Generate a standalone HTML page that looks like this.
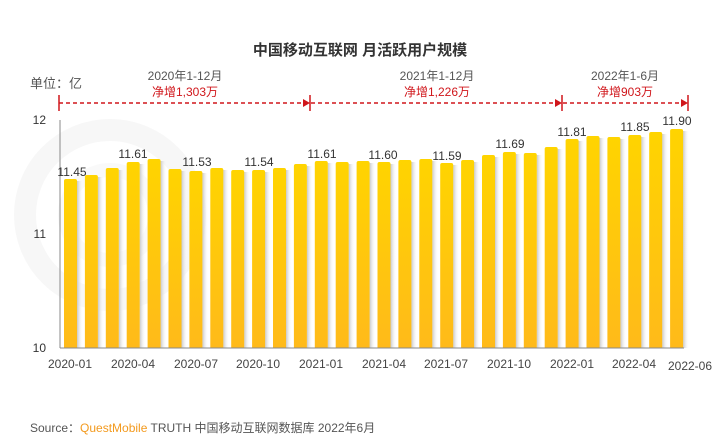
<!DOCTYPE html>
<html><head><meta charset="utf-8"><style>
body{margin:0;background:#fff;}
svg{display:block;font-family:"Liberation Sans","Noto Sans CJK SC",sans-serif;}
</style></head><body>
<svg width="718" height="443" viewBox="0 0 718 443">
<defs>
<linearGradient id="g" x1="0" y1="0" x2="0" y2="1"><stop offset="0" stop-color="#FFD400"/><stop offset="1" stop-color="#FFBA1A"/></linearGradient>
<linearGradient id="s" x1="0" y1="0" x2="1" y2="0"><stop offset="0" stop-color="#c8c8c8"/><stop offset="1" stop-color="#fff" stop-opacity="0"/></linearGradient>
</defs>
<circle cx="110" cy="215" r="85" fill="none" stroke="#f7f7f7" stroke-width="22"/>
<circle cx="110" cy="215" r="45" fill="none" stroke="#f9f9f9" stroke-width="14"/>
<text x="360" y="55" text-anchor="middle" font-size="15" font-weight="bold" fill="#333">中国移动互联网 月活跃用户规模</text>
<text x="30" y="88" font-size="13" fill="#555">单位：亿</text>
<g font-size="12" text-anchor="middle">
<text x="185" y="80" fill="#555">2020年1-12月</text><text x="185" y="96" fill="#d0161b">净增1,303万</text>
<text x="437" y="80" fill="#555">2021年1-12月</text><text x="437" y="96" fill="#d0161b">净增1,226万</text>
<text x="625" y="80" fill="#555">2022年1-6月</text><text x="625" y="96" fill="#d0161b">净增903万</text>
</g>
<g stroke="#d0161b" stroke-width="1.5">
<line x1="59" y1="103" x2="686" y2="103" stroke-dasharray="4,3"/>
<line x1="59" y1="95" x2="59" y2="111"/><line x1="310" y1="95" x2="310" y2="111"/><line x1="562" y1="95" x2="562" y2="111"/><line x1="688" y1="95" x2="688" y2="111"/>
</g>
<g fill="#d0161b"><path d="M310 103l-7-4v8z"/><path d="M562 103l-7-4v8z"/><path d="M688 103l-7-4v8z"/></g>
<g font-size="12" fill="#333" text-anchor="end"><text x="46" y="124">12</text><text x="46" y="238">11</text><text x="46" y="352">10</text></g>
<g id="bars"></g>
<line x1="60" y1="120" x2="60" y2="348" stroke="#888"/>
<line x1="60" y1="348" x2="684" y2="348" stroke="#888"/>
<g font-size="12" fill="#333" text-anchor="middle">
<text x="72" y="176">11.45</text><text x="133" y="158">11.61</text><text x="197" y="166">11.53</text><text x="259" y="166">11.54</text><text x="322" y="158">11.61</text><text x="383" y="159">11.60</text><text x="447" y="160">11.59</text><text x="510" y="148">11.69</text><text x="572" y="136">11.81</text><text x="635" y="131">11.85</text><text x="677" y="125">11.90</text>
</g>
<g font-size="12" fill="#444" text-anchor="middle">
<text x="70" y="368">2020-01</text><text x="133" y="368">2020-04</text><text x="196" y="368">2020-07</text><text x="258" y="368">2020-10</text><text x="321" y="368">2021-01</text><text x="384" y="368">2021-04</text><text x="446" y="368">2021-07</text><text x="509" y="368">2021-10</text><text x="572" y="368">2022-01</text><text x="634" y="368">2022-04</text><text x="690" y="370">2022-06</text>
</g>
<text x="30" y="432" font-size="12" fill="#555">Source：<tspan fill="#f39a1e">QuestMobile</tspan> TRUTH 中国移动互联网数据库 2022年6月</text>
</svg>
<script>
var tops=[179,175,168,162,159,169,171,168,170,170,168,164,161,162,161,162,160,159,163,160,155,152,153,147,139,136,137,135,132,129];
var g=document.getElementById('bars'),h='';
tops.forEach(function(t,i){var x=64+i*20.9;
h+='<rect x="'+(x+13).toFixed(1)+'" y="'+(t+2)+'" width="6" height="'+(346-t)+'" fill="url(#s)"/>';
h+='<path d="M'+x.toFixed(1)+' 348V'+(t+2)+'q0-2 2-2h9q2 0 2 2V348z" fill="url(#g)"/>';});
g.innerHTML=h;
</script>
</body></html>
